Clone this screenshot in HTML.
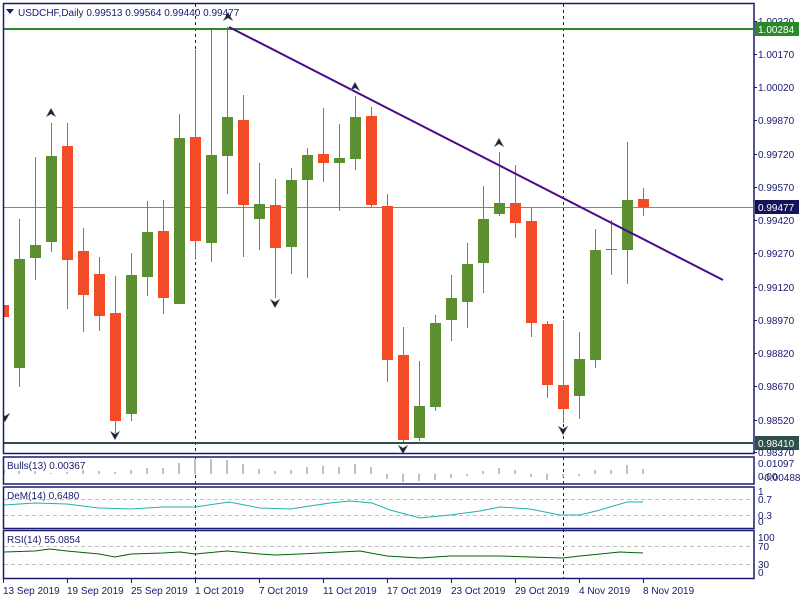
<!DOCTYPE html>
<html><head><meta charset="utf-8"><style>
html,body{margin:0;padding:0;background:#fff;width:800px;height:600px;overflow:hidden}
svg{display:block}
text{font-family:"Liberation Sans",sans-serif;font-size:10px;fill:#1a1a6e}
</style></head><body>
<svg width="800" height="600" viewBox="0 0 800 600" xmlns="http://www.w3.org/2000/svg">
<defs><clipPath id="m"><rect x="4" y="4" width="749" height="449"/></clipPath>
<clipPath id="p"><rect x="4" y="457" width="749" height="121"/></clipPath></defs>
<rect width="800" height="600" fill="#fff"/>
<!-- main -->
<g clip-path="url(#m)">
<line x1="4" y1="207.5" x2="753" y2="207.5" stroke="#778899" stroke-width="1"/>
<line x1="195.5" y1="4" x2="195.5" y2="600" stroke="#1a1a6e" stroke-dasharray="3,3"/>
<line x1="563.5" y1="4" x2="563.5" y2="600" stroke="#1a1a6e" stroke-dasharray="3,3"/>
<g fill="#5b8f2f">
<rect x="19" y="219" width="1" height="168"/><rect x="35" y="157" width="1" height="123"/><rect x="51" y="123" width="1" height="129"/>
<rect x="131" y="253" width="1" height="168"/><rect x="147" y="201" width="1" height="95"/><rect x="179" y="114" width="1" height="190"/>
<rect x="211" y="29" width="1" height="233"/><rect x="227" y="27" width="1" height="167"/><rect x="259" y="163" width="1" height="87"/>
<rect x="291" y="168" width="1" height="106"/><rect x="307" y="148" width="1" height="130"/><rect x="339" y="124" width="1" height="87"/>
<rect x="355" y="96" width="1" height="74"/><rect x="419" y="361" width="1" height="80"/><rect x="435" y="315" width="1" height="96"/>
<rect x="451" y="275" width="1" height="66"/><rect x="467" y="243" width="1" height="85"/><rect x="483" y="186" width="1" height="107"/>
<rect x="499" y="152" width="1" height="64"/><rect x="579" y="332" width="1" height="87"/><rect x="595" y="229" width="1" height="139"/>
<rect x="611" y="220" width="1" height="55"/><rect x="627" y="142" width="1" height="142"/>
<rect x="14" y="259" width="11" height="109"/><rect x="30" y="245" width="11" height="13"/><rect x="46" y="156" width="11" height="86"/>
<rect x="126" y="275" width="11" height="139"/><rect x="142" y="232" width="11" height="45"/><rect x="174" y="138" width="11" height="166"/>
<rect x="206" y="155" width="11" height="88"/><rect x="222" y="117" width="11" height="39"/><rect x="254" y="204" width="11" height="15"/>
<rect x="286" y="180" width="11" height="67"/><rect x="302" y="155" width="11" height="25"/><rect x="334" y="158" width="11" height="5"/>
<rect x="350" y="117" width="11" height="42"/><rect x="414" y="406" width="11" height="32"/><rect x="430" y="323" width="11" height="84"/>
<rect x="446" y="298" width="11" height="22"/><rect x="462" y="264" width="11" height="38"/><rect x="478" y="219" width="11" height="44"/>
<rect x="494" y="203" width="11" height="11"/><rect x="574" y="359" width="11" height="37"/><rect x="590" y="250" width="11" height="110"/>
<rect x="606" y="249" width="11" height="1"/><rect x="622" y="200" width="11" height="50"/>
</g>
<g fill="#f24b25">
<rect x="3" y="283" width="1" height="127"/><rect x="67" y="123" width="1" height="186"/><rect x="83" y="228" width="1" height="104"/>
<rect x="99" y="257" width="1" height="74"/><rect x="115" y="276" width="1" height="157"/><rect x="163" y="200" width="1" height="114"/>
<rect x="195" y="50" width="1" height="208"/><rect x="243" y="95" width="1" height="162"/><rect x="275" y="179" width="1" height="119"/>
<rect x="323" y="108" width="1" height="74"/><rect x="371" y="107" width="1" height="100"/><rect x="387" y="194" width="1" height="188"/>
<rect x="403" y="327" width="1" height="115"/><rect x="515" y="165" width="1" height="73"/><rect x="531" y="208" width="1" height="129"/>
<rect x="547" y="321" width="1" height="77"/><rect x="563" y="320" width="1" height="103"/><rect x="643" y="188" width="1" height="28"/>
<rect x="-2" y="305" width="11" height="12"/><rect x="62" y="146" width="11" height="114"/><rect x="78" y="251" width="11" height="44"/>
<rect x="94" y="274" width="11" height="42"/><rect x="110" y="313" width="11" height="108"/><rect x="158" y="231" width="11" height="67"/>
<rect x="190" y="137" width="11" height="104"/><rect x="238" y="120" width="11" height="85"/><rect x="270" y="205" width="11" height="43"/>
<rect x="318" y="154" width="11" height="9"/><rect x="366" y="116" width="11" height="89"/><rect x="382" y="206" width="11" height="154"/>
<rect x="398" y="355" width="11" height="85"/><rect x="510" y="203" width="11" height="20"/><rect x="526" y="221" width="11" height="102"/>
<rect x="542" y="324" width="11" height="61"/><rect x="558" y="385" width="11" height="24"/><rect x="638" y="199" width="11" height="8"/>
</g>
<line x1="4" y1="29" x2="753" y2="29" stroke="#2a8a2a" stroke-width="2"/>
<line x1="4" y1="443" x2="753" y2="443" stroke="#2f4f4f" stroke-width="2"/>
<line x1="229" y1="27" x2="723" y2="280" stroke="#4b0a8c" stroke-width="2"/>
<g fill="#223" stroke="#8ab" stroke-width="0.5">
<path d="M51 108 l-5 9 l5 -3 l5 3z"/><path d="M228 12 l-5 9 l5 -3 l5 3z"/><path d="M355 82 l-5 9 l5 -3 l5 3z"/><path d="M499 138 l-5 9 l5 -3 l5 3z"/>
<path d="M115 440 l-5 -9 l5 3 l5 -3z"/><path d="M275 308 l-5 -9 l5 3 l5 -3z"/><path d="M403 454 l-5 -9 l5 3 l5 -3z"/><path d="M563 435 l-5 -9 l5 3 l5 -3z"/><path d="M5 422 l-5 -9 l5 3 l5 -3z"/>
</g>
</g>
<!-- sub panels -->
<g clip-path="url(#p)">
<line x1="195.5" y1="457" x2="195.5" y2="600" stroke="#1a1a6e" stroke-dasharray="3,3"/>
<line x1="563.5" y1="457" x2="563.5" y2="600" stroke="#1a1a6e" stroke-dasharray="3,3"/>
<g fill="#c0c0c0">
<rect x="3" y="470" width="2" height="4"/><rect x="18" y="471" width="2" height="3"/><rect x="34" y="471" width="2" height="3"/><rect x="50" y="473" width="2" height="1"/>
<rect x="66" y="472" width="2" height="2"/><rect x="82" y="470" width="2" height="4"/><rect x="98" y="471" width="2" height="3"/><rect x="114" y="472" width="2" height="2"/>
<rect x="130" y="470" width="2" height="4"/><rect x="146" y="468" width="2" height="6"/><rect x="162" y="468" width="2" height="6"/><rect x="178" y="463" width="2" height="11"/>
<rect x="194" y="459" width="2" height="15"/><rect x="210" y="459" width="2" height="15"/><rect x="226" y="460" width="2" height="14"/><rect x="242" y="464" width="2" height="10"/>
<rect x="258" y="469" width="2" height="5"/><rect x="274" y="471" width="2" height="3"/><rect x="290" y="470" width="2" height="4"/><rect x="306" y="467" width="2" height="7"/>
<rect x="322" y="466" width="2" height="8"/><rect x="338" y="467" width="2" height="7"/><rect x="354" y="464" width="2" height="10"/><rect x="370" y="467" width="2" height="7"/>
<rect x="386" y="474" width="2" height="5"/><rect x="402" y="474" width="2" height="8"/><rect x="418" y="474" width="2" height="7"/><rect x="434" y="474" width="2" height="6"/>
<rect x="450" y="474" width="2" height="4"/><rect x="466" y="474" width="2" height="2"/><rect x="482" y="471" width="2" height="3"/><rect x="498" y="468" width="2" height="6"/>
<rect x="514" y="470" width="2" height="4"/><rect x="530" y="474" width="2" height="3"/><rect x="546" y="474" width="2" height="6"/><rect x="562" y="474" width="2" height="3"/>
<rect x="578" y="474" width="2" height="2"/><rect x="594" y="470" width="2" height="4"/><rect x="610" y="470" width="2" height="4"/><rect x="626" y="465" width="2" height="9"/><rect x="642" y="469" width="2" height="5"/>
</g>
<g stroke="#c0c0c0" stroke-dasharray="4,3"><line x1="4" y1="499.5" x2="753" y2="499.5"/><line x1="4" y1="515.5" x2="753" y2="515.5"/>
<line x1="4" y1="546.5" x2="753" y2="546.5"/><line x1="4" y1="564.5" x2="753" y2="564.5"/></g>
<polyline fill="none" stroke="#20b2aa" points="4,505 35,503 67,504 99,508 131,509 163,507 195,507 229,502 260,508 290,509 330,503 350,501 372,503 390,510 420,518 450,515 480,511 500,507 530,509 560,515 580,515 600,510 627,502 643,502"/>
<polyline fill="none" stroke="#006400" points="4,552 35,551 50,549 67,551 99,554 115,557 131,554 163,553 180,552 195,554 227,551 260,554 275,555 300,554 340,552 360,551 387,556 420,558 450,556 500,556 530,557 563,558 580,556 620,552 643,553"/>
</g>
<!-- frames -->
<g fill="none" stroke="#1a1a6e" stroke-width="1.5">
<rect x="3.5" y="3.5" width="750.5" height="450"/>
<rect x="3.5" y="457" width="750.5" height="27"/>
<rect x="3.5" y="487" width="750.5" height="41.5"/>
<rect x="3.5" y="530.5" width="750.5" height="48"/>
</g>
<g stroke="#1a1a6e"><line x1="754" y1="21.5" x2="757" y2="21.5"/><line x1="754" y1="54.5" x2="757" y2="54.5"/><line x1="754" y1="87.5" x2="757" y2="87.5"/><line x1="754" y1="120.5" x2="757" y2="120.5"/><line x1="754" y1="154.5" x2="757" y2="154.5"/><line x1="754" y1="187.5" x2="757" y2="187.5"/><line x1="754" y1="220.5" x2="757" y2="220.5"/><line x1="754" y1="253.5" x2="757" y2="253.5"/><line x1="754" y1="287.5" x2="757" y2="287.5"/><line x1="754" y1="320.5" x2="757" y2="320.5"/><line x1="754" y1="353.5" x2="757" y2="353.5"/><line x1="754" y1="386.5" x2="757" y2="386.5"/><line x1="754" y1="420.5" x2="757" y2="420.5"/><line x1="754" y1="452.5" x2="757" y2="452.5"/>
<line x1="3.5" y1="579" x2="3.5" y2="583"/><line x1="67.5" y1="579" x2="67.5" y2="583"/><line x1="131.5" y1="579" x2="131.5" y2="583"/><line x1="195.5" y1="579" x2="195.5" y2="583"/><line x1="259.5" y1="579" x2="259.5" y2="583"/><line x1="323.5" y1="579" x2="323.5" y2="583"/><line x1="387.5" y1="579" x2="387.5" y2="583"/><line x1="451.5" y1="579" x2="451.5" y2="583"/><line x1="515.5" y1="579" x2="515.5" y2="583"/><line x1="579.5" y1="579" x2="579.5" y2="583"/><line x1="643.5" y1="579" x2="643.5" y2="583"/></g>
<!-- labels -->
<path d="M6 9 l8 0 l-4 5z" fill="#1a1a6e"/>
<text x="18" y="16">USDCHF,Daily  0.99513 0.99564 0.99440 0.99477</text>
<text x="758" y="25">1.00320</text>
<rect x="755" y="22" width="44" height="14" fill="#2a8a2a"/><text x="758" y="33" style="fill:#fff">1.00284</text>
<text x="758" y="58">1.00170</text><text x="758" y="91">1.00020</text><text x="758" y="124">0.99870</text><text x="758" y="158">0.99720</text><text x="758" y="191">0.99570</text>
<rect x="755" y="200" width="44" height="14" fill="#14145a"/><text x="758" y="211" style="fill:#fff">0.99477</text>
<text x="758" y="224">0.99420</text><text x="758" y="257">0.99270</text><text x="758" y="291">0.99120</text><text x="758" y="324">0.98970</text><text x="758" y="357">0.98820</text><text x="758" y="390">0.98670</text><text x="758" y="424">0.98520</text>
<rect x="755" y="436" width="44" height="14" fill="#2f4f4f"/><text x="758" y="447" style="fill:#fff">0.98410</text>
<text x="758" y="456">0.98370</text>
<text x="758" y="467">0.01097</text><text x="758" y="480">0.00</text><text x="761" y="481">-0.00488</text>
<text x="758" y="495">1</text><text x="758" y="503">0.7</text><text x="758" y="519">0.3</text><text x="758" y="525">0</text>
<text x="758" y="541">100</text><text x="758" y="550">70</text><text x="758" y="568">30</text><text x="758" y="576">0</text>
<text x="7" y="469">Bulls(13) 0.00367</text>
<text x="7" y="499">DeM(14) 0.6480</text>
<text x="7" y="543">RSI(14) 55.0854</text>
<text x="3" y="594">13 Sep 2019</text><text x="67" y="594">19 Sep 2019</text><text x="131" y="594">25 Sep 2019</text><text x="195" y="594">1 Oct 2019</text><text x="259" y="594">7 Oct 2019</text><text x="323" y="594">11 Oct 2019</text><text x="387" y="594">17 Oct 2019</text><text x="451" y="594">23 Oct 2019</text><text x="515" y="594">29 Oct 2019</text><text x="579" y="594">4 Nov 2019</text><text x="643" y="594">8 Nov 2019</text>
</svg>
</body></html>
